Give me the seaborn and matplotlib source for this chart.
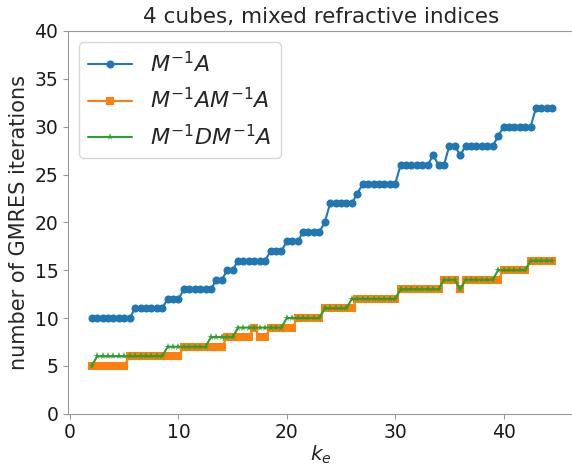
import matplotlib
matplotlib.use("Agg")
import pandas as pd
import matplotlib.pyplot as plt
import seaborn as sns

# wave number k_e (x axis)
k_e = [2.0, 2.5, 3.0, 3.5, 4.0, 4.5, 5.0, 5.5, 6.0, 6.5,
       7.0, 7.5, 8.0, 8.5, 9.0, 9.5, 10.0, 10.5, 11.0, 11.5,
       12.0, 12.5, 13.0, 13.5, 14.0, 14.5, 15.0, 15.5, 16.0, 16.5,
       17.0, 17.5, 18.0, 18.5, 19.0, 19.5, 20.0, 20.5, 21.0, 21.5,
       22.0, 22.5, 23.0, 23.5, 24.0, 24.5, 25.0, 25.5, 26.0, 26.5,
       27.0, 27.5, 28.0, 28.5, 29.0, 29.5, 30.0, 30.5, 31.0, 31.5,
       32.0, 32.5, 33.0, 33.5, 34.0, 34.5, 35.0, 35.5, 36.0, 36.5,
       37.0, 37.5, 38.0, 38.5, 39.0, 39.5, 40.0, 40.5, 41.0, 41.5,
       42.0, 42.5, 43.0, 43.5, 44.0, 44.5]

# GMRES iterations, M^-1 A
iters_MA = [10, 10, 10, 10, 10, 10, 10, 10, 11, 11,
            11, 11, 11, 11, 12, 12, 12, 13, 13, 13,
            13, 13, 13, 14, 14, 15, 15, 16, 16, 16,
            16, 16, 16, 17, 17, 17, 18, 18, 18, 19,
            19, 19, 19, 20, 22, 22, 22, 22, 22, 23,
            24, 24, 24, 24, 24, 24, 24, 26, 26, 26,
            26, 26, 26, 27, 26, 26, 28, 28, 27, 28,
            28, 28, 28, 28, 28, 29, 30, 30, 30, 30,
            30, 30, 32, 32, 32, 32]

# GMRES iterations, M^-1 A M^-1 A
iters_MAMA = [5, 5, 5, 5, 5, 5, 5, 6, 6, 6,
              6, 6, 6, 6, 6, 6, 6, 7, 7, 7,
              7, 7, 7, 7, 7, 8, 8, 8, 8, 8,
              9, 8, 8, 9, 9, 9, 9, 9, 10, 10,
              10, 10, 10, 11, 11, 11, 11, 11, 11, 12,
              12, 12, 12, 12, 12, 12, 12, 13, 13, 13,
              13, 13, 13, 13, 13, 14, 14, 14, 13, 14,
              14, 14, 14, 14, 14, 14, 15, 15, 15, 15,
              15, 16, 16, 16, 16, 16]

# GMRES iterations, M^-1 D M^-1 A
iters_MDMA = [5, 6, 6, 6, 6, 6, 6, 6, 6, 6,
              6, 6, 6, 6, 7, 7, 7, 7, 7, 7,
              7, 7, 8, 8, 8, 8, 8, 9, 9, 9,
              9, 9, 9, 9, 9, 9, 10, 10, 10, 10,
              10, 10, 10, 11, 11, 11, 11, 11, 12, 12,
              12, 12, 12, 12, 12, 12, 12, 13, 13, 13,
              13, 13, 13, 13, 13, 14, 14, 14, 13, 14,
              14, 14, 14, 14, 14, 15, 15, 15, 15, 15,
              15, 16, 16, 16, 16, 16]

labels = [r"$M^{-1}A$", r"$M^{-1}AM^{-1}A$", r"$M^{-1}DM^{-1}A$"]
markers = ["o", "s", "*"]
sizes = [5.8, 5.6, 5.5]
colors = ["#1f77b4", "#ff7f0e", "#2ca02c"]

sns.set_style("white", {"axes.edgecolor": "0.6", "xtick.bottom": True, "ytick.left": True,
                        "xtick.color": "0.6", "ytick.color": "0.6"})
plt.rcParams["font.family"] = ["DejaVu Sans"]
plt.rcParams["mathtext.fontset"] = "dejavusans"

fig = plt.figure(figsize=(5.72, 4.70), dpi=100)
ax = fig.add_axes([68 / 572, 1 - 413.7 / 470, 506 / 572, (413.7 - 31) / 470])

series = [iters_MA, iters_MAMA, iters_MDMA]
for vals, lab, mk, ms, col in zip(series, labels, markers, sizes, colors):
    sns.lineplot(x=k_e, y=vals, ax=ax, label=lab, marker=mk, markersize=ms,
                 markeredgewidth=0, color=col, linewidth=1.5)

ax.set_xlim(-0.19, 46.5)
ax.set_ylim(0, 40)
ax.set_xticks([0, 10, 20, 30, 40])
ax.set_yticks([0, 5, 10, 15, 20, 25, 30, 35, 40])
ax.tick_params(axis="both", labelsize=13.5, labelcolor="#1a1a1a", length=3.5, width=0.8)
ax.set_title("4 cubes, mixed refractive indices", fontsize=15.5)
ax.set_xlabel(r"$k_e$", fontsize=14.5, labelpad=1)
ax.set_ylabel("number of GMRES iterations", fontsize=15)
ax.legend(loc="upper left", fontsize=16, handlelength=2.0, framealpha=0.8,
          edgecolor="0.8", fancybox=True)

fig.savefig("out.png", dpi=100)
